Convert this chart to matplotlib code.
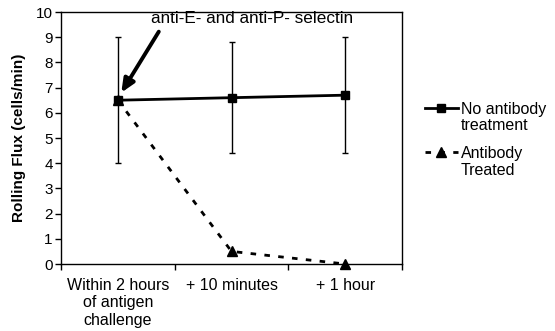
import matplotlib
matplotlib.use("Agg")
import matplotlib.pyplot as plt
from matplotlib.lines import Line2D
from matplotlib.transforms import ScaledTranslation

plt.rcParams['font.family'] = ['Liberation Sans', 'DejaVu Sans']

categories = ["Within 2 hours\nof antigen\nchallenge", "+ 10 minutes", "+ 1 hour"]
no_antibody = [6.5, 6.6, 6.7]
no_antibody_err_low = [2.5, 2.2, 2.3]
no_antibody_err_high = [2.5, 2.2, 2.3]
antibody = [6.5, 0.5, 0.0]
series_labels = [["No antibody", "treatment"], ["Antibody", "Treated"]]
annotation_text = "anti-E- and anti-P- selectin"
y_label = "Rolling Flux (cells/min)"

fig = plt.figure(figsize=(5.55, 3.31), dpi=100)
ax = fig.add_axes([0.110, 0.2024, 0.6143, 0.7613])

x = list(range(1, len(categories) + 1))

ax.errorbar(x, no_antibody, yerr=[no_antibody_err_low, no_antibody_err_high],
            fmt='none', ecolor='black', elinewidth=1.0, capsize=2.5, capthick=1.0, zorder=2)
l1, = ax.plot(x, no_antibody, color='black', lw=2.0, marker='s', ms=6,
              markerfacecolor='black', zorder=3)
l2, = ax.plot(x, antibody, color='black', lw=2.0, ls=(0, (2, 3)), marker='^', ms=7,
              markerfacecolor='black', zorder=3, clip_on=False)

ax.set_xlim(0.5, len(categories) + 0.5)
ax.set_ylim(0, 10)
ax.set_yticks(range(0, 11))
ax.set_xticks([i + 0.5 for i in range(0, len(categories) + 1)])
ax.set_xticklabels([])
ax.set_xticks(x, minor=True)
ax.set_xticklabels(categories, minor=True, fontsize=11.5, linespacing=1.2)
offset = ScaledTranslation(6 / 100, 0, fig.dpi_scale_trans)
for lab in ax.xaxis.get_minorticklabels():
    lab.set_transform(lab.get_transform() + offset)
ax.tick_params(axis='x', which='minor', length=0, pad=10)
ax.tick_params(axis='x', which='major', length=4, width=1, direction='out')
ax.tick_params(axis='y', length=4, width=1, direction='out', labelsize=11, pad=2)
for s in ax.spines.values():
    s.set_linewidth(1.0)

ax.set_ylabel(y_label, fontsize=11, fontweight='bold', labelpad=7)

ax.text(2.18, 9.76, annotation_text, ha='center', va='center', fontsize=12.3)
ax.annotate('', xy=(1.03, 6.8), xytext=(1.36, 9.22),
            arrowprops=dict(arrowstyle='-|>,head_length=0.8,head_width=0.35',
                            color='black', lw=2.8, shrinkA=0, shrinkB=0))

blank = Line2D([], [], alpha=0)
fig.legend([l1, blank], series_labels[0], loc='upper left',
           bbox_to_anchor=(0.765, 0.693), frameon=False, fontsize=11.5,
           handlelength=2.1, handletextpad=0.15, labelspacing=0.1,
           borderaxespad=0, borderpad=0)
fig.legend([l2, blank], series_labels[1], loc='upper left',
           bbox_to_anchor=(0.765, 0.559), frameon=False, fontsize=11.5,
           handlelength=2.1, handletextpad=0.15, labelspacing=0.1,
           borderaxespad=0, borderpad=0)

fig.savefig("out.png", dpi=100)
